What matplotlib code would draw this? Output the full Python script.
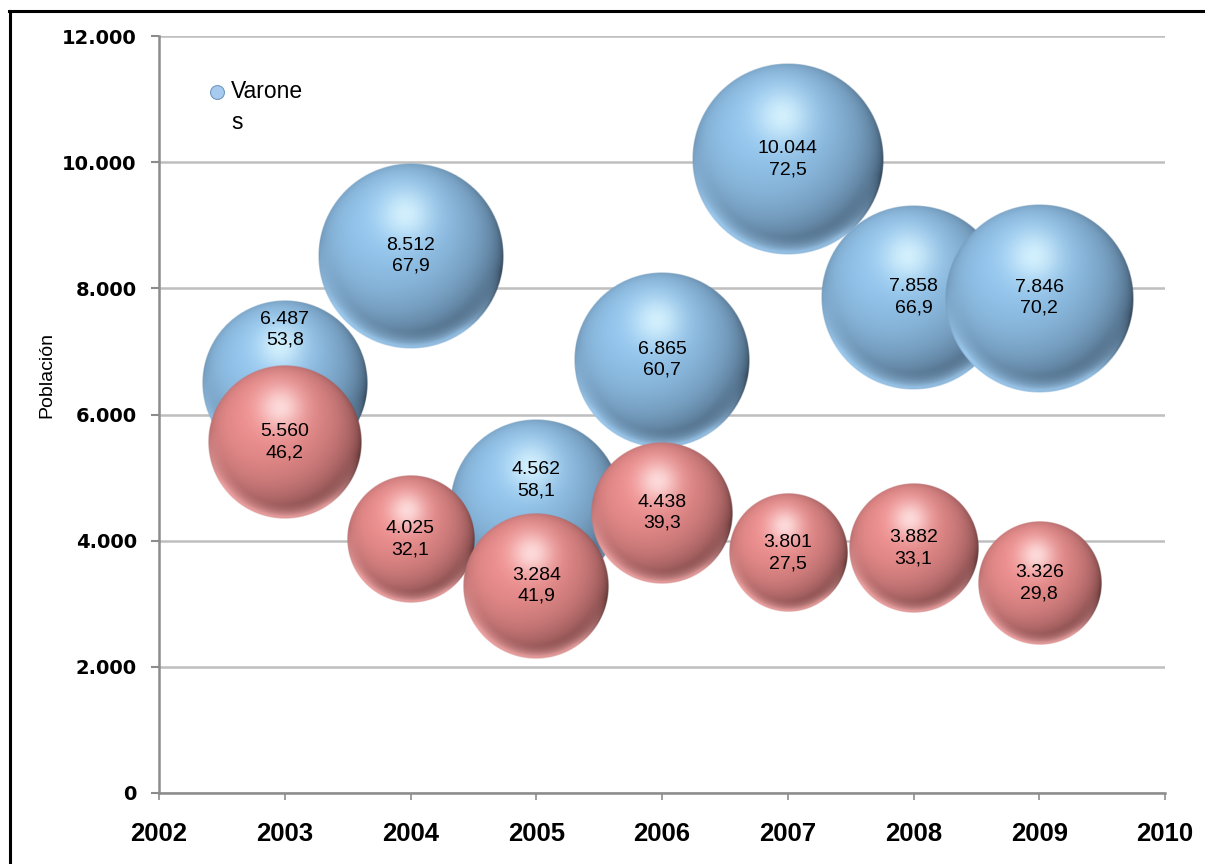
#-------------------------------------------------------------------------------
# Bubble chart: poblacion por sexo (varones / mujeres), 2003-2009
#-------------------------------------------------------------------------------
import numpy as np
import matplotlib
matplotlib.use('Agg')
import matplotlib.pyplot as plt
from matplotlib.lines import Line2D
from matplotlib.path import Path
from matplotlib.ticker import FuncFormatter

plt.rcParams['font.family'] = ['Liberation Sans', 'DejaVu Sans']

#-------------------------------------------------------------------------------
# Data
years = [2003, 2004, 2005, 2006, 2007, 2008, 2009]
varones = [6487, 8512, 4562, 6865, 10044, 7858, 7846]
varones_pct = [53.8, 67.9, 58.1, 60.7, 72.5, 66.9, 70.2]
mujeres = [5560, 4025, 3284, 4438, 3801, 3882, 3326]
mujeres_pct = [46.2, 32.1, 41.9, 39.3, 27.5, 33.1, 29.8]

xticks = list(range(2002, 2011))
yticks = list(range(0, 12001, 2000))

#-------------------------------------------------------------------------------
# Colours for the shaded spheres (RGB 0-255): highlight, base, dark, bottom rim
blue = [(220, 246, 255), (150, 200, 240), (28, 42, 58), (165, 212, 250)]
red = [(255, 230, 230), (240, 145, 145), (62, 30, 30), (250, 172, 172)]


def sphere_image(colors, n=300):
    """RGBA image of a shaded sphere, transparent outside the circle."""
    hi, base, dark, rim = [np.array(c) / 255. for c in colors]
    v, u = np.mgrid[1:-1:n * 1j, -1:1:n * 1j]
    r = np.sqrt(u ** 2 + v ** 2)
    z = np.sqrt(np.clip(1 - r ** 2, 0, 1))
    L = np.array([-0.25, 0.4, 0.88])
    L = L / np.linalg.norm(L)
    d = np.clip((u * L[0] + v * L[1] + z * L[2] + 0.25) / 1.25, 0, 1) ** 0.6
    col = dark + (base - dark) * d[..., None]
    # soft highlight near the top
    spec = np.exp(-((u + 0.06) ** 2 + (v - 0.45) ** 2) / 0.08)
    col = col + (hi - col) * (0.85 * spec)[..., None]
    # light reflection along the bottom edge
    edge = np.clip((r - 0.80) / 0.17, 0, 1) ** 1.5
    w = edge * np.clip(-v * 1.4 - 0.25 * u, 0, 1)
    col = col + (rim - col) * (0.85 * w)[..., None]
    alpha = np.clip((1 - r) * n / 2, 0, 1)
    return np.dstack([np.clip(col, 0, 1), alpha])


#-------------------------------------------------------------------------------
dpi = 100
fig_w, fig_h = 12.05, 8.64
fig = plt.figure(figsize=(fig_w, fig_h), dpi=dpi)

# axes box in pixels: left 159, right 1165, top 36, bottom 793
left, right, top, bottom = 159, 1165, 36, 793
W, H = fig_w * dpi, fig_h * dpi
ax = fig.add_axes([left / W, 1 - bottom / H, (right - left) / W, (bottom - top) / H])
ax.set_xlim(2002, 2010)
ax.set_ylim(0, 12000)

# pixel -> data conversion to keep the bubbles round
px_x = (right - left) / (ax.get_xlim()[1] - ax.get_xlim()[0])
px_y = (bottom - top) / (ax.get_ylim()[1] - ax.get_ylim()[0])
max_r_px = 96.0   # radius of the largest bubble
max_pct = max(varones_pct + mujeres_pct)

# label offsets (points) for the two labels that were moved in the original
label_dy_varones = [39, 0, 18, 0, 0, 0, 0]
label_dy_mujeres = [0, 0, 0, 0, 0, 0, 0]


def draw_series(xs, ys, pcts, colors, dys, z):
    img = sphere_image(colors)
    for i, (x, y, p) in enumerate(zip(xs, ys, pcts)):
        r = max_r_px * np.sqrt(p / max_pct)
        rx, ry = r / px_x, r / px_y
        ax.imshow(img, extent=[x - rx, x + rx, y - ry, y + ry],
                  aspect='auto', interpolation='bilinear', zorder=z + i * 0.01)
        txt = '{:,}'.format(y).replace(',', '.') + '\n' + ('%.1f' % p).replace('.', ',')
        ax.annotate(txt, (x, y), xytext=(0, dys[i]), textcoords='offset points',
                    ha='center', va='center', fontsize=14, linespacing=1.3,
                    color='black', zorder=10)


draw_series(years, varones, varones_pct, blue, label_dy_varones, 3)
draw_series(years, mujeres, mujeres_pct, red, label_dy_mujeres, 4)

# keep the limits (imshow changes them)
ax.set_xlim(2002, 2010)
ax.set_ylim(0, 12000)

# Ticks and grid
ax.set_xticks(xticks)
ax.set_yticks(yticks)
ax.yaxis.set_major_formatter(FuncFormatter(lambda v, pos: '{:,}'.format(int(v)).replace(',', '.')))
ax.grid(axis='y', color='#bfbfbf', linewidth=1.8, zorder=0)
ax.set_axisbelow(True)
for s in ['top', 'right']:
    ax.spines[s].set_visible(False)
for s in ['left', 'bottom']:
    ax.spines[s].set_color('#8c8c8c')
    ax.spines[s].set_linewidth(1.8)
ax.tick_params(axis='y', length=6, width=1.5, color='#8c8c8c', pad=10)
ax.tick_params(axis='x', length=5, width=1.2, color='#8c8c8c', pad=16)
for lab in ax.get_yticklabels():
    lab.set_fontfamily('DejaVu Sans')
    lab.set_fontweight('bold')
    lab.set_fontsize(14)
for lab in ax.get_xticklabels():
    lab.set_fontweight('bold')
    lab.set_fontsize(18.5)

ax.set_ylabel('Población', fontsize=14)
ax.yaxis.set_label_coords(-(left - 55) / (right - left), (bottom - 375) / (bottom - top))

# Legend (only "Varones", wrapped as in the original); the marker path is
# shifted up so it sits next to the first line of the label
marker_path = Path.circle((0, 1.15), 0.5)
handle = Line2D([], [], linestyle='none', marker=marker_path, markersize=33,
                markerfacecolor='#a6cbee', markeredgecolor='#7399be',
                markeredgewidth=0.8)
leg = ax.legend([handle], ['Varone\ns'], loc='upper left',
                bbox_to_anchor=((208 - left) / (right - left), 1 - (80 - top) / (bottom - top)),
                frameon=False, fontsize=16.5, handlelength=0.8, handletextpad=0.2,
                borderpad=0, borderaxespad=0, labelspacing=0)
for t in leg.get_texts():
    t.set_linespacing(1.45)

# black frame around the chart area (top and left visible)
fig.add_artist(Line2D([9 / W, 1.0], [1 - 11 / H, 1 - 11 / H], color='black',
                      linewidth=2.2, transform=fig.transFigure))
fig.add_artist(Line2D([10 / W, 10 / W], [1 - 11 / H, 0.0], color='black',
                      linewidth=2.2, transform=fig.transFigure))

fig.savefig('out.png', dpi=dpi)
